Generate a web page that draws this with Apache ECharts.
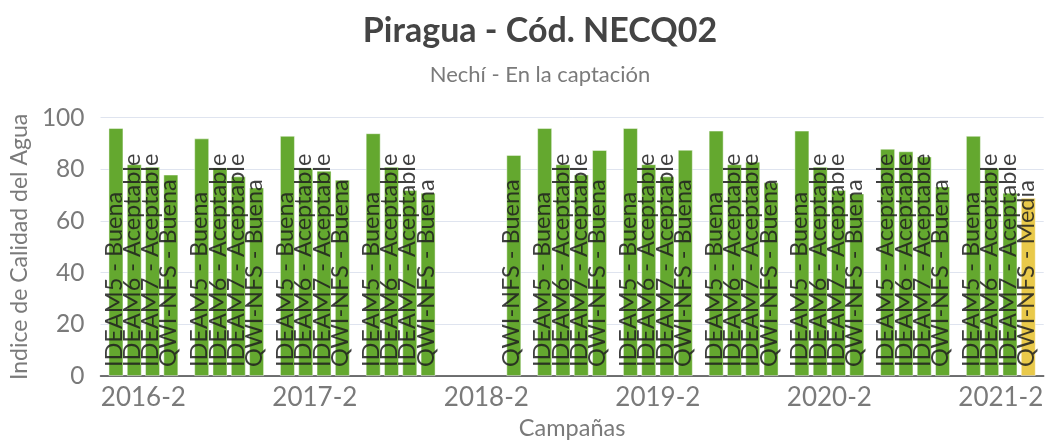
<!DOCTYPE html>
<html>
<head>
<meta charset="utf-8">
<script src="https://cdn.jsdelivr.net/npm/echarts@6/dist/echarts.min.js"></script>
<style>
html,body{margin:0;padding:0;background:#fff;}
#chart{width:1046px;height:445px;}
</style>
</head>
<body>
<div id="chart"></div>
<script>
// ---- Data ----
const categories = ['2016-2','2017-1','2017-2','2018-1','2018-2','2019-1','2019-2','2020-1','2020-2','2021-1','2021-2'];
const seriesNames = ['IDEAM5','IDEAM6','IDEAM7','QWI-NFS'];
const ideam5 = [96, 92, 93, 94, null, 96, 96, 95, 95, 88, 93];
const ideam6 = [82, 80.7, 80.5, 81, null, 82, 82, 82, 81, 87, 80.5];
const ideam7 = [81, 77.3, 79.5, 72, null, 78, 77.3, 83, 72, 85, 71];
const qwiNfs = [78, 73, 76, 71, 85.6, 87.5, 87.6, 75, 70.7, 73.4, 69];
const ideam5Cls = ['Buena','Buena','Buena','Buena',null,'Buena','Buena','Buena','Buena','Aceptable','Buena'];
const ideam6Cls = ['Aceptable','Aceptable','Aceptable','Aceptable',null,'Aceptable','Aceptable','Aceptable','Aceptable','Aceptable','Aceptable'];
const ideam7Cls = ['Aceptable','Aceptable','Aceptable','Aceptable',null,'Aceptable','Aceptable','Aceptable','Aceptable','Aceptable','Aceptable'];
const qwiCls = ['Buena','Buena','Buena','Buena','Buena','Buena','Buena','Buena','Buena','Buena','Media'];
const yTicks = [0, 20, 40, 60, 80, 100];

// ---- Styles ----
const classColors = { Buena: '#64a82f', Aceptable: '#64a82f', Media: '#e9c94a' };
const FONT = 'Lato';

const values = [ideam5, ideam6, ideam7, qwiNfs];
const classes = [ideam5Cls, ideam6Cls, ideam7Cls, qwiCls];

const series = seriesNames.map((name, si) => ({
  name: name,
  type: 'bar',
  barWidth: 15,
  barGap: '22%',
  data: values[si].map((v, i) => v == null ? null : {
    value: v,
    cls: classes[si][i],
    itemStyle: { color: classColors[classes[si][i]] }
  }),
  itemStyle: { borderColor: 'rgba(255,255,255,0.45)', borderWidth: 1 },
  label: {
    show: true,
    position: 'insideBottom',
    rotate: 90,
    align: 'left',
    verticalAlign: 'middle',
    distance: 9,
    offset: [0, -2],
    fontFamily: FONT,
    fontSize: 23.5,
    color: 'rgba(30,30,30,0.85)',
    formatter: p => name + ' - ' + p.data.cls
  }
}));

const chart = echarts.init(document.getElementById('chart'));
chart.setOption({
  animation: false,
  title: {
    text: 'Piragua - Cód. NECQ02',
    subtext: 'Nechí - En la captación',
    left: 540,
    textAlign: 'center',
    top: 9,
    padding: [5, 0, 5, 0],
    itemGap: 16,
    textStyle: { fontFamily: FONT, fontSize: 34, fontWeight: 'bold', color: '#444' },
    subtextStyle: { fontFamily: FONT, fontSize: 22, color: '#7a7a7a' }
  },
  grid: { left: 97, top: 117.7, width: 951, height: 271.6, containLabel: false },
  xAxis: {
    type: 'category',
    data: categories,
    name: 'Campañas',
    nameLocation: 'middle',
    nameGap: 36,
    nameTextStyle: { fontFamily: FONT, fontSize: 23.5, color: '#7a7a7a', verticalAlign: 'top' },
    axisTick: { show: false },
    axisLine: { lineStyle: { color: '#444', width: 1.5 } },
    axisLabel: { interval: 1, fontFamily: FONT, fontSize: 26, color: '#7a7a7a', margin: 9 }
  },
  yAxis: {
    type: 'value',
    min: 0,
    max: 100,
    interval: 20,
    name: 'Indice de Calidad del Agua',
    nameLocation: 'middle',
    nameGap: 64,
    nameTextStyle: { fontFamily: FONT, fontSize: 23, color: '#7a7a7a' },
    axisLine: { show: false },
    axisTick: { show: false },
    splitLine: { lineStyle: { color: '#dfe4ef', width: 1 } },
    axisLabel: { fontFamily: FONT, fontSize: 24.5, color: '#7a7a7a', margin: 16,
      formatter: v => yTicks.includes(v) ? String(v) : '' }
  },
  series: series
});
</script>
</body>
</html>
